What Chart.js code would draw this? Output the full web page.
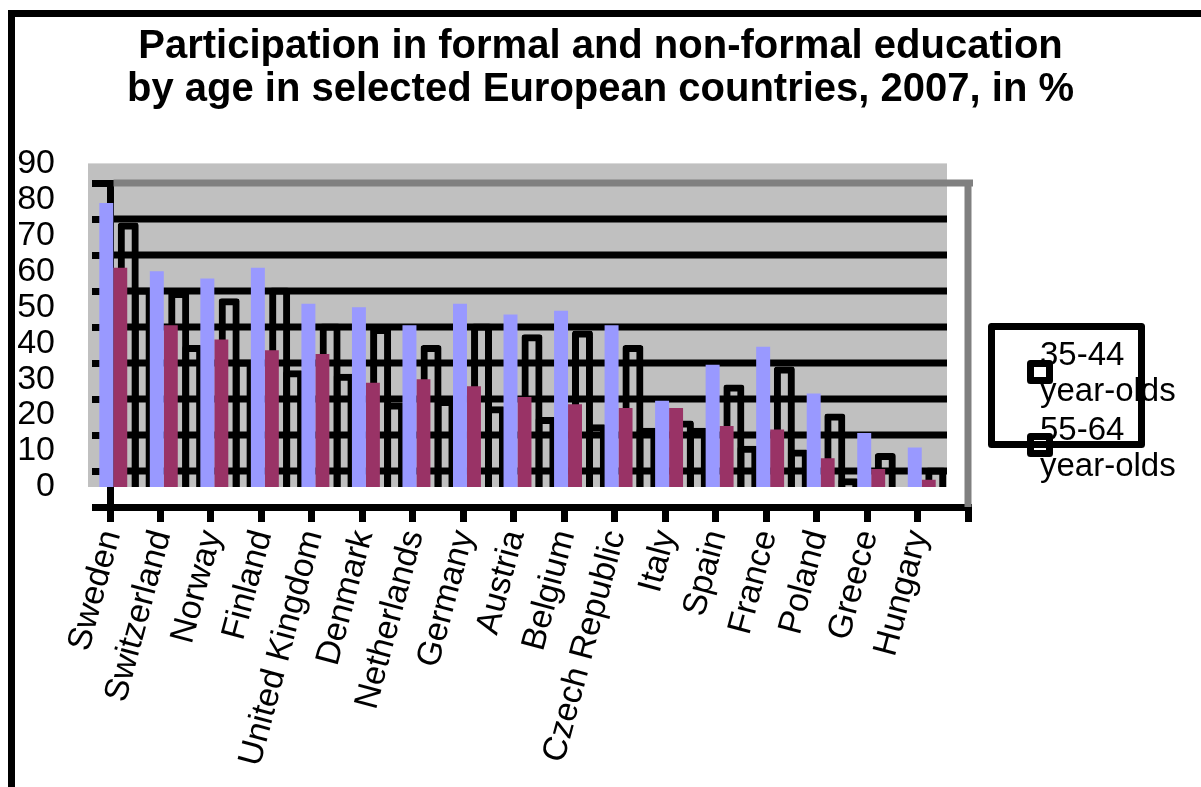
<!DOCTYPE html>
<html>
<head>
<meta charset="utf-8">
<script src="https://cdn.jsdelivr.net/npm/chart.js@4/dist/chart.umd.min.js"></script>
<style>
  html, body { margin: 0; padding: 0; background: #fff; overflow: hidden; }
  #wrap { position: relative; width: 1201px; height: 787px; }
  #wrap canvas { position: absolute; left: 0; top: 0; }
  #frame { position: absolute; left: 8px; top: 10px; width: 1300px; height: 900px;
           border-top: 7px solid #000; border-left: 7px solid #000; }
</style>
</head>
<body>
<div id="wrap">
  <div id="frame"></div>
  <canvas id="backChart" width="1201" height="787"></canvas>
  <canvas id="frontChart" width="1201" height="787"></canvas>
</div>
<script>
// Participation in education by age, 2007, in %

const countries = ['Sweden', 'Switzerland', 'Norway', 'Finland', 'United Kingdom', 'Denmark',
  'Netherlands', 'Germany', 'Austria', 'Belgium', 'Czech Republic', 'Italy', 'Spain',
  'France', 'Poland', 'Greece', 'Hungary'];
const age3544 = [79, 60, 58, 61, 51, 50, 45, 51, 48, 49, 45, 24, 34, 39, 26, 15, 11];
const age5564 = [61, 45, 41, 38, 37, 29, 30, 28, 25, 23, 22, 22, 17, 16, 8, 5, 2];
const seriesNames = ['35-44 year-olds', '55-64 year-olds'];
const yTicks = [0, 10, 20, 30, 40, 50, 60, 70, 80, 90];
const titleLines = ['Participation in formal and non-formal education',
  'by age in selected European countries, 2007, in %'];

const FONT = "'Liberation Sans', Arial, sans-serif";
const yMin = yTicks[0];
const yMax = yTicks[yTicks.length - 1];
const yStep = yTicks[1] - yTicks[0];

// Front chart: gray plot area + filled bars
const frontChart = new Chart(document.getElementById('frontChart'), {
  type: 'bar',
  data: {
    labels: countries,
    datasets: [
      { label: seriesNames[0], data: age3544, backgroundColor: '#9999FF', borderWidth: 0 },
      { label: seriesNames[1], data: age5564, backgroundColor: '#993366', borderWidth: 0 }
    ]
  },
  options: {
    responsive: false,
    animation: false,
    events: [],
    datasets: { bar: { categoryPercentage: 0.553, barPercentage: 1 } },
    layout: { padding: { top: 0, right: 0, bottom: 300, left: 0 } },
    plugins: {
      legend: { display: false },
      tooltip: { enabled: false },
      title: {
        display: true,
        text: titleLines,
        color: '#000',
        font: { family: FONT, size: 40, weight: 'bold', lineHeight: 1.08 },
        padding: { top: 25, bottom: 52 }
      }
    },
    scales: {
      x: { display: false },
      y: {
        min: yMin,
        max: yMax,
        afterFit: s => { s.width = 88; },
        grid: { display: false, drawTicks: false },
        border: { display: false },
        ticks: { stepSize: yStep, autoSkip: false, color: '#000', padding: 33, font: { family: FONT, size: 34 } }
      },
      // empty space on the right for the legend
      yPad: {
        position: 'right',
        afterFit: s => { s.width = 254; },
        grid: { display: false, drawTicks: false },
        border: { display: false },
        ticks: { display: false }
      }
    }
  }
});

// Back chart: second (shifted) frame with black outlines, axes, labels, legend
const backPlugin = {
  id: 'backFrame',
  beforeDraw(chart) {
    const a = frontChart.chartArea;
    const ctx = chart.ctx;
    ctx.save();
    ctx.fillStyle = '#C0C0C0';
    ctx.fillRect(a.left, a.top, a.right - a.left, a.bottom - a.top);
    ctx.restore();
  },
  beforeDatasetsDraw(chart) {
    const a = frontChart.chartArea;
    const area = chart.chartArea;
    const y = chart.scales.y;
    const ctx = chart.ctx;
    ctx.save();
    ctx.beginPath();
    ctx.rect(a.left, a.top, a.right - a.left, a.bottom - a.top);
    ctx.clip();
    ctx.strokeStyle = '#000';
    ctx.lineWidth = 7;
    y.ticks.forEach(t => {
      if (t.value <= y.min || t.value >= y.max) return;
      const py = y.getPixelForValue(t.value);
      ctx.beginPath();
      ctx.moveTo(area.left, py);
      ctx.lineTo(area.right, py);
      ctx.stroke();
    });
  },
  afterDatasetsDraw(chart) {
    const ctx = chart.ctx;
    ctx.restore();
    const area = chart.chartArea;
    const y = chart.scales.y;
    const top = y.getPixelForValue(yMax);
    ctx.save();
    ctx.strokeStyle = '#808080';
    ctx.lineWidth = 7;
    ctx.beginPath();
    ctx.moveTo(area.left + 3.5, top);
    ctx.lineTo(area.right + 5, top);
    ctx.moveTo(area.right, top);
    ctx.lineTo(area.right, y.getPixelForValue(yMin));
    ctx.stroke();
    ctx.restore();
  },
  afterDraw(chart) {
    const ctx = chart.ctx;
    ctx.save();
    // legend text
    ctx.font = '33px ' + FONT;
    ctx.fillStyle = '#000';
    ctx.textAlign = 'left';
    ctx.textBaseline = 'alphabetic';
    const lines = seriesNames.flatMap(n => n.split(' '));
    const baselines = [365, 401, 440, 476];
    lines.forEach((t, i) => ctx.fillText(t, 1040, baselines[i]));
    // legend markers
    ctx.lineWidth = 7;
    ctx.lineJoin = 'round';
    ctx.strokeStyle = '#000';
    [363.5, 436.5].forEach(my => {
      ctx.fillStyle = '#fff';
      ctx.fillRect(1030.5, my, 19, 17);
      ctx.strokeRect(1030.5, my, 19, 17);
    });
    // legend box
    ctx.strokeRect(991.5, 326.5, 150, 118);
    ctx.restore();
  }
};

const outline = { backgroundColor: 'rgba(0,0,0,0)', borderColor: '#000', borderWidth: 7, borderRadius: 3 };

new Chart(document.getElementById('backChart'), {
  type: 'bar',
  data: {
    labels: countries,
    datasets: [
      { label: seriesNames[0], data: age3544, ...outline },
      { label: seriesNames[1], data: age5564, ...outline }
    ]
  },
  options: {
    responsive: false,
    animation: false,
    events: [],
    datasets: { bar: { categoryPercentage: 0.5545, barPercentage: 1.5 } },
    layout: { padding: { top: 183, right: 233, bottom: 0, left: 0 } },
    plugins: {
      legend: { display: false },
      tooltip: { enabled: false },
      title: { display: false }
    },
    scales: {
      x: {
        afterFit: s => { s.height = 280; },
        grid: { drawOnChartArea: false, drawTicks: true, tickLength: 15, lineWidth: 7, color: '#000' },
        border: { display: true, width: 7, color: '#000' },
        ticks: {
          autoSkip: false,
          minRotation: 75,
          maxRotation: 75,
          labelOffset: -24,
          padding: 4,
          color: '#000',
          font: { family: FONT, size: 34 }
        }
      },
      y: {
        min: yMin,
        max: yMax,
        afterFit: s => { s.width = 110; },
        grid: { drawOnChartArea: false, drawTicks: true, tickLength: 18, lineWidth: 7, color: '#000' },
        border: { display: true, width: 7, color: '#000' },
        ticks: { display: false, stepSize: yStep }
      }
    }
  },
  plugins: [backPlugin]
});
</script>
</body>
</html>
